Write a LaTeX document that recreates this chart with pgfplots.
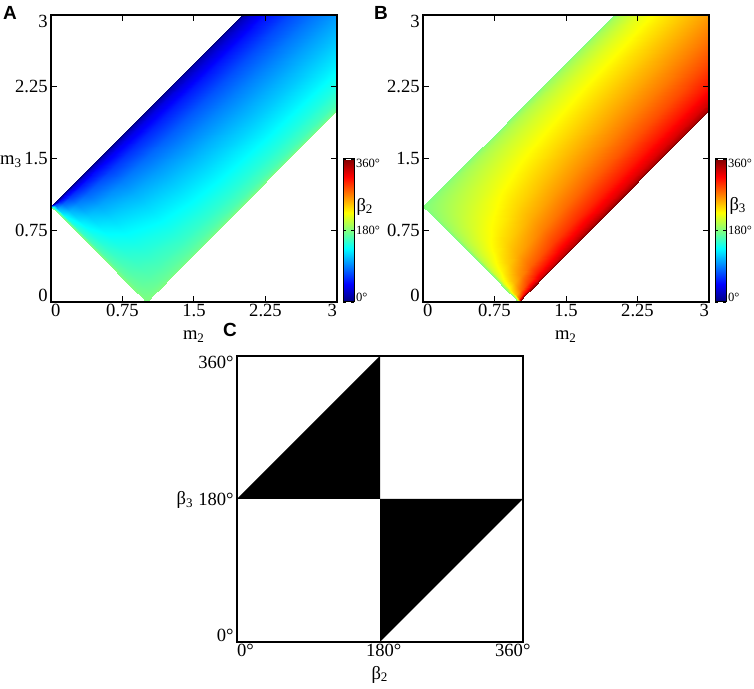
\documentclass[border=0pt]{standalone}
\usepackage{fontspec}
\setmainfont{Liberation Serif}
\newfontfamily\panelfont{Liberation Sans}
\usepackage{pgfplots}
\usepackage{pgfplotstable}
\pgfplotsset{compat=1.18}

% mesh: 13 points per scanline (u = m3-m2 from -1 to 1), scanlines v = m2+m3
% b2 = beta_2, b3 = beta_3 in degrees
\pgfplotstableread{
m2 m3 b2 b3
1 0 180 270
0.985 0.015 180 180
0.95 0.05 180 180
0.875 0.125 180 180
0.75 0.25 180 180
0.625 0.375 180 180
0.5 0.5 180 180
0.375 0.625 180 180
0.25 0.75 180 180
0.125 0.875 180 180
0.05 0.95 180 180
0.015 0.985 180 180
0 1 90 180
1.025 0.025 180 360
1.01 0.04 177.8 283.4
0.975 0.075 175.9 248.5
0.9 0.15 173.3 224.9
0.775 0.275 169.7 210.3
0.65 0.4 166.2 202.8
0.525 0.525 162.2 197.8
0.4 0.65 157.2 193.8
0.275 0.775 149.7 190.3
0.15 0.9 135.1 186.7
0.075 0.975 111.5 184.1
0.04 1.01 76.6 182.2
0.025 1.025 0 180
1.075 0.075 180 360
1.06 0.09 176.3 309.9
1.025 0.125 173.1 278.0
0.95 0.2 168.6 249.9
0.825 0.325 162.6 229.2
0.7 0.45 156.9 217.7
0.575 0.575 150.4 209.6
0.45 0.7 142.3 203.1
0.325 0.825 130.8 197.4
0.2 0.95 110.1 191.4
0.125 1.025 82.0 186.9
0.09 1.06 50.1 183.7
0.075 1.075 0 180
1.15 0.15 180 360
1.135 0.165 174.9 322.3
1.1 0.2 170.5 295.1
1.025 0.275 164.4 267.4
0.9 0.4 156.4 244.1
0.775 0.525 148.8 230.0
0.65 0.65 140.3 219.7
0.525 0.775 130.0 211.2
0.4 0.9 115.9 203.6
0.275 1.025 92.6 195.6
0.2 1.1 64.9 189.5
0.165 1.135 37.7 185.1
0.15 1.15 0 180
1.25 0.25 180 360
1.235 0.265 173.7 329.1
1.2 0.3 168.3 305.7
1.125 0.375 160.8 279.6
1 0.5 151.0 255.5
0.875 0.625 141.8 240.0
0.75 0.75 131.8 228.2
0.625 0.875 120.0 218.2
0.5 1 104.5 209.0
0.375 1.125 80.4 199.2
0.3 1.2 54.3 191.7
0.265 1.235 30.9 186.3
0.25 1.25 0 180
1.5 0.5 180 360
1.485 0.515 171.9 335.9
1.45 0.55 164.9 316.7
1.375 0.625 155.4 293.6
1.25 0.75 143.1 270.0
1.125 0.875 131.8 253.4
1 1 120.0 240.0
0.875 1.125 106.6 228.2
0.75 1.25 90.0 216.9
0.625 1.375 66.4 204.6
0.55 1.45 43.3 195.1
0.515 1.485 24.1 188.1
0.5 1.5 0 180
1.75 0.75 180 360
1.735 0.765 170.8 338.7
1.7 0.8 162.9 321.4
1.625 0.875 152.2 300.0
1.5 1 138.6 277.2
1.375 1.125 126.2 260.4
1.25 1.25 113.6 246.4
1.125 1.375 99.6 233.8
1 1.5 82.8 221.4
0.875 1.625 60.0 207.8
0.8 1.7 38.6 197.1
0.765 1.735 21.3 189.2
0.75 1.75 0 180
2 1 180 360
1.985 1.015 170.0 340.2
1.95 1.05 161.6 324.0
1.875 1.125 150.1 303.7
1.75 1.25 135.6 281.5
1.625 1.375 122.6 264.8
1.5 1.5 109.5 250.5
1.375 1.625 95.2 237.4
1.25 1.75 78.5 224.4
1.125 1.875 56.3 209.9
1.05 1.95 36.0 198.4
1.015 1.985 19.8 190.0
1 2 0 180
2.5 1.5 180 360
2.485 1.515 169.1 341.9
2.45 1.55 159.9 327.0
2.375 1.625 147.4 308.0
2.25 1.75 131.8 286.6
2.125 1.875 118.1 270.0
2 2 104.5 255.5
1.875 2.125 90.0 241.9
1.75 2.25 73.4 228.2
1.625 2.375 52.0 212.6
1.55 2.45 33.0 200.1
1.515 2.485 18.1 190.9
1.5 2.5 0 180
3.5 2.5 180 360
3.485 2.515 168.1 343.4
3.45 2.55 158.0 329.6
3.375 2.625 144.6 311.8
3.25 2.75 128.0 291.3
3.125 2.875 113.6 275.0
3 3 99.6 260.4
2.875 3.125 85.0 246.4
2.75 3.25 68.7 232.0
2.625 3.375 48.2 215.4
2.55 3.45 30.4 202.0
2.515 3.485 16.6 191.9
2.5 3.5 0 180
}\meshdata

\pgfplotsset{
  frame/.style={
    scale only axis,
    anchor=south west,
    axis line style={line width=1pt},
    every tick/.style={black, line width=0.5pt},
    major tick length=3pt,
    tick label style={font=\fontsize{9.3}{10}\selectfont},
    label style={font=\fontsize{9.3}{10}\selectfont},
    xticklabel style={inner sep=1pt},
    yticklabel style={inner sep=1.5pt},
    axis on top,
  },
  panel/.style={
    frame,
    width=143pt, height=143.5pt,
    xmin=0, xmax=3, ymin=0, ymax=3,
    xtick={0,0.75,1.5,2.25,3}, ytick={0,0.75,1.5,2.25,3},
    xticklabels={\rlap{0},0.75,1.5,2.25,\llap{3}},
    yticklabels={{\raisebox{0pt}[0pt][0pt]{0}},0.75,1.5,2.25,{\raisebox{-\height}[0pt][0pt]{3}}},
    xlabel={m\textsubscript{2}},
    xlabel style={yshift=-2.5pt},
    colormap/jet,
    point meta min=0, point meta max=360,
    colorbar,
    colorbar style={
      scale only axis,
      width=5.5pt, height=71.5pt,
      at={(parent axis.south east)}, anchor=south west, xshift=-5.5pt,
      ytick={0,180,360},
      yticklabels={{\raisebox{0pt}[0pt][0pt]{0°}},180°,{\raisebox{-\height}[0pt][0pt]{360°}}},
      yticklabel style={font=\fontsize{6.3}{7}\selectfont, inner sep=0.8pt},
      major tick length=1.5pt,
      axis line style={line width=0.5pt},
      every tick/.style={black, line width=0.4pt},
    },
  },
}

\begin{document}
\begin{tikzpicture}
\useasboundingbox (0,0) rectangle (377pt,344.5pt);

% A
\begin{axis}[panel, at={(25.5pt,193.5pt)}]
\addplot[surf, shader=interp, mesh/cols=13, point meta=\thisrow{b2}]
  table[x=m2, y=m3] {\meshdata};
\end{axis}

% B
\begin{axis}[panel, at={(211.5pt,193.5pt)}]
\addplot[surf, shader=interp, mesh/cols=13, point meta=\thisrow{b3}]
  table[x=m2, y=m3] {\meshdata};
\end{axis}

% C
\begin{axis}[frame, at={(118.5pt,23.5pt)},
  width=143pt, height=143pt,
  xmin=0, xmax=360, ymin=0, ymax=360,
  xtick={0,180,360}, ytick={0,180,360},
  xticklabels={\rlap{0°},180\rlap{°},\llap{360}\rlap{°}},
  yticklabels={{\raisebox{0pt}[0pt][0pt]{0°}},180°,{\raisebox{-\height}[0pt][0pt]{360°}}},
  major tick length=0pt,
  xlabel={β\textsubscript{2}},
]
\addplot[fill=black, draw=none] coordinates {(0,180) (180,360) (180,180) (0,180)};
\addplot[fill=black, draw=none] coordinates {(180,0) (360,180) (180,180) (180,0)};
\end{axis}

% labels
\node[anchor=base east, inner sep=0pt, font=\fontsize{9.3}{10}\selectfont] at (11.3pt,262pt) {m\textsubscript{3}};
\node[anchor=base east, inner sep=0pt, font=\fontsize{9.3}{10}\selectfont] at (97pt,92pt) {β\textsubscript{3}};
\node[font=\fontsize{9.3}{10}\selectfont] at (182.5pt,241pt) {β\textsubscript{2}};
\node[font=\fontsize{9.3}{10}\selectfont] at (369pt,241.5pt) {β\textsubscript{3}};
\node[font=\panelfont\fontsize{9.5}{10}\selectfont\bfseries] at (5pt,338pt) {A};
\node[font=\panelfont\fontsize{9.5}{10}\selectfont\bfseries] at (190.5pt,338pt) {B};
\node[font=\panelfont\fontsize{9.5}{10}\selectfont\bfseries] at (115pt,179.5pt) {C};
\end{tikzpicture}
\end{document}
